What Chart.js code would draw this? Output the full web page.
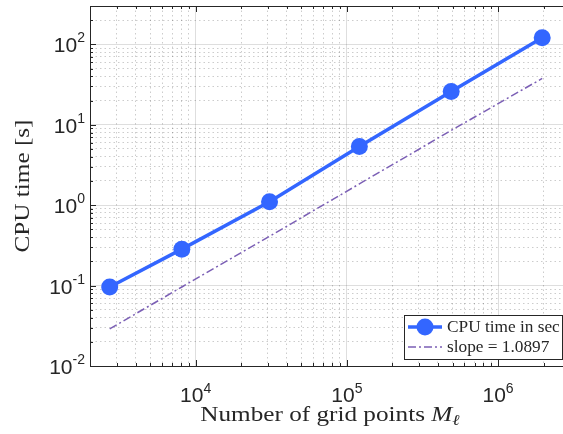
<!DOCTYPE html>
<html>
<head>
<meta charset="utf-8">
<script src="https://cdn.jsdelivr.net/npm/chart.js@4.4.1/dist/chart.umd.min.js"></script>
<style>
  html, body { margin: 0; padding: 0; background: #fff; overflow: hidden; }
  #wrap { width: 563px; height: 434px; }
</style>
</head>
<body>
<div id="wrap"><canvas id="cpu-chart" width="563" height="434"></canvas></div>
<script>
// values
const gridPoints   = [2700, 8100, 30800, 121000, 490000, 1960000];
const cpuSeconds   = [0.096, 0.284, 1.10, 5.36, 25.9, 121];
const slopeSeconds = [0.029, 0.096, 0.41, 1.84, 8.5, 37.7];
const seriesLabels = ['CPU time in sec', 'slope = 1.0897'];
const xTickExponents = [4, 5, 6];
const yTickExponents = [-2, -1, 0, 1, 2];
const xRange = [2000, 2.69e6];   // axes are cut off at the right edge of the picture
const yRange = [0.01, 300];
const yTitle = 'CPU time [s]';
const xTitle = ['Number of grid points ', 'M', 'ℓ'];

const ink = '#262626';
const blue = '#3366ff';
const purple = '#7b5fb5';
const hiddenRight = 7;  // px of axes beyond the picture

// 1..9 x 10^e ticks, like a matlab log axis
const logTicks = s => {
    const t = [];
    for (let e = Math.floor(Math.log10(s.min)); e <= Math.ceil(Math.log10(s.max)); e++)
        for (let m = 1; m < 10; m++) {
            const v = m * Math.pow(10, e);
            if (v >= s.min * 0.999 && v <= s.max * 1.001) t.push({ value: v, major: m === 1 });
        }
    s.ticks = t;
};

const axisOpts = (min, max) => ({
    type: 'logarithmic', min, max,
    afterBuildTicks: logTicks,
    ticks: { display: false },
    grid: {
        drawTicks: false,
        color: c => c.tick && c.tick.major ? 'rgba(0,0,0,0.13)' : 'rgba(0,0,0,0.2)',
        lineWidth: 1
    },
    border: { display: true, color: ink, width: 1, dash: c => c.tick && !c.tick.major ? [1.5, 3] : [] }
});

const matlabAxes = {
    id: 'matlabAxes',
    afterDraw(chart) {
        const { ctx, chartArea: a, scales: { x, y } } = chart;
        ctx.save();
        ctx.strokeStyle = ink; ctx.lineWidth = 1;
        ctx.beginPath();
        ctx.moveTo(a.left, a.top + 0.5); ctx.lineTo(a.right, a.top + 0.5);
        x.ticks.forEach(t => {
            const px = Math.round(x.getPixelForValue(t.value)) + 0.5, len = t.major ? 6 : 3;
            ctx.moveTo(px, a.bottom); ctx.lineTo(px, a.bottom - len);
            ctx.moveTo(px, a.top); ctx.lineTo(px, a.top + len);
        });
        y.ticks.forEach(t => {
            const py = Math.round(y.getPixelForValue(t.value)) + 0.5, len = t.major ? 6 : 3;
            ctx.moveTo(a.left, py); ctx.lineTo(a.left + len, py);
        });
        ctx.stroke();

        // 10^n labels
        const baseFont = '21px "Liberation Sans", Arial, sans-serif';
        const supFont = '14px "Liberation Sans", Arial, sans-serif';
        ctx.fillStyle = ink; ctx.textAlign = 'left'; ctx.textBaseline = 'alphabetic';
        const widths = e => {
            ctx.font = baseFont; const w10 = ctx.measureText('10').width;
            ctx.font = supFont; const we = ctx.measureText(String(e)).width;
            return [w10, we];
        };
        xTickExponents.forEach(e => {
            const [w10, we] = widths(e);
            const left = x.getPixelForValue(Math.pow(10, e)) - (w10 + we) / 2;
            ctx.font = baseFont; ctx.fillText('10', left, a.bottom + 36);
            ctx.font = supFont; ctx.fillText(String(e), left + w10, a.bottom + 27);
        });
        yTickExponents.forEach(e => {
            const [w10, we] = widths(e);
            const py = y.getPixelForValue(Math.pow(10, e));
            const left = a.left - 5 - we - w10;
            ctx.font = baseFont; ctx.fillText('10', left, py + 8);
            ctx.font = supFont; ctx.fillText(String(e), left + w10, py - 2);
        });

        // axis titles (latex roman is wider than times, so stretch a little)
        const serif = '"Liberation Serif", "Times New Roman", serif';
        const stretch = 1.2;
        ctx.save();
        ctx.translate(23, (a.top + a.bottom) / 2);
        ctx.rotate(-Math.PI / 2);
        ctx.scale(stretch, 1);
        ctx.textAlign = 'center'; ctx.textBaseline = 'middle';
        ctx.font = `21px ${serif}`;
        ctx.fillText(yTitle, 0, 0);
        ctx.restore();

        const fonts = [`21px ${serif}`, `italic 21px ${serif}`, `italic 15px ${serif}`];
        const ws = xTitle.map((s, i) => { ctx.font = fonts[i]; return ctx.measureText(s).width; });
        ctx.save();
        ctx.translate((a.left + a.right + hiddenRight) / 2, 421);
        ctx.scale(stretch, 1);
        let tx = -ws.reduce((p, q) => p + q, 0) / 2;
        xTitle.forEach((s, i) => {
            ctx.font = fonts[i];
            ctx.fillText(s, tx, i === 2 ? 4 : 0);
            tx += ws[i];
        });
        ctx.restore();

        // legend, south-east inside the axes
        const lw = 158, lh = 44;
        const lx = a.right + hiddenRight - 8 - lw, ly = a.bottom - 7 - lh;
        ctx.fillStyle = '#fff';
        ctx.fillRect(lx, ly, lw, lh);
        ctx.strokeStyle = ink; ctx.lineWidth = 1;
        ctx.strokeRect(Math.round(lx) + 0.5, Math.round(ly) + 0.5, lw, lh);
        chart.data.datasets.forEach((ds, i) => {
            const ry = ly + 12 + i * 20;
            ctx.save();
            ctx.strokeStyle = ds.borderColor; ctx.lineWidth = ds.borderWidth;
            ctx.setLineDash(ds.borderDash || []);
            ctx.beginPath(); ctx.moveTo(lx + 4, ry); ctx.lineTo(lx + 38, ry); ctx.stroke();
            if (ds.pointRadius) {
                ctx.fillStyle = ds.pointBackgroundColor;
                ctx.beginPath(); ctx.arc(lx + 21, ry, ds.pointRadius, 0, 2 * Math.PI); ctx.fill();
            }
            ctx.restore();
            ctx.save();
            ctx.translate(lx + 43, ry + 1);
            ctx.scale(1.08, 1);
            ctx.fillStyle = ink; ctx.font = `16px ${serif}`;
            ctx.textAlign = 'left'; ctx.textBaseline = 'middle';
            ctx.fillText(ds.label, 0, 0);
            ctx.restore();
        });
        ctx.restore();
    }
};

new Chart(document.getElementById('cpu-chart'), {
    type: 'line',
    data: {
        datasets: [
            {
                label: seriesLabels[0],
                data: gridPoints.map((g, i) => ({ x: g, y: cpuSeconds[i] })),
                borderColor: blue, backgroundColor: blue, borderWidth: 3.5,
                pointRadius: 8.5, pointBackgroundColor: blue, pointBorderWidth: 0,
                tension: 0
            },
            {
                label: seriesLabels[1],
                data: gridPoints.map((g, i) => ({ x: g, y: slopeSeconds[i] })),
                borderColor: purple, borderWidth: 1.5, borderDash: [8, 3, 2, 3],
                pointRadius: 0, tension: 0
            }
        ]
    },
    options: {
        responsive: false,
        animation: false,
        devicePixelRatio: 1,
        layout: { autoPadding: false, padding: { left: 0, top: 6, right: 0, bottom: 0 } },
        plugins: { legend: { display: false }, tooltip: { enabled: false } },
        scales: {
            x: { ...axisOpts(xRange[0], xRange[1]), afterFit: s => { s.height = 68; } },
            y: { ...axisOpts(yRange[0], yRange[1]), afterFit: s => { s.width = 90; } }
        }
    },
    plugins: [matlabAxes]
});
</script>
</body>
</html>
